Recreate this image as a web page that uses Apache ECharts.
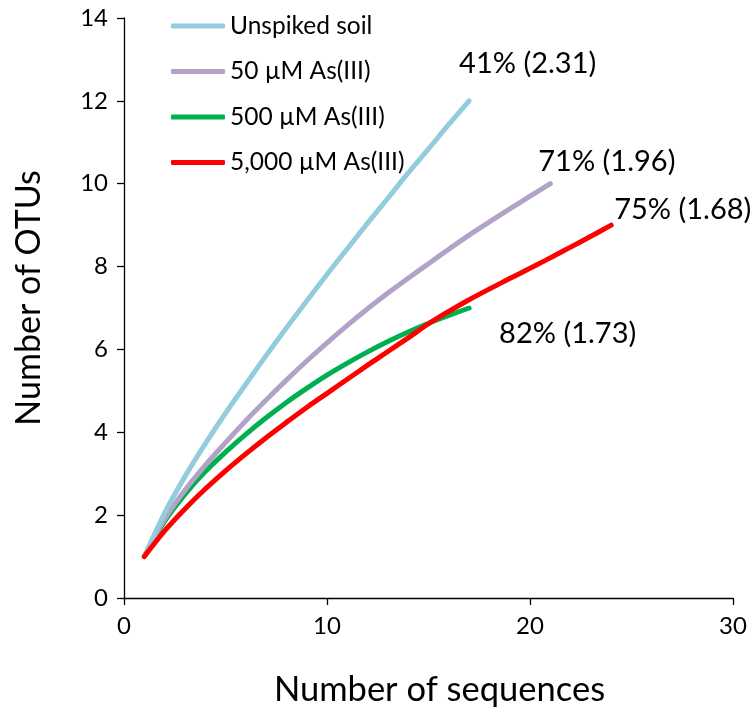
<!DOCTYPE html>
<html>
<head>
<meta charset="utf-8">
<script src="https://cdn.jsdelivr.net/npm/echarts@6/dist/echarts.min.js"></script>
<style>
  html, body { margin: 0; padding: 0; background: #fff; }
  #chart { width: 755px; height: 722px; }
</style>
</head>
<body>
<div id="chart"></div>
<script>
// Rarefaction curves: OTUs observed vs. number of sequences sampled
const seriesNames = ['Unspiked soil', '50 \u00b5M As(III)', '500 \u00b5M As(III)', '5,000 \u00b5M As(III)'];
const seriesColors = ['#93CDDD', '#B3A2C7', '#00B050', '#FF0000'];

const unspiked = [1, 2.05, 2.93, 3.72, 4.46, 5.16, 5.85, 6.52, 7.17, 7.81, 8.43, 9.05, 9.65, 10.26, 10.84, 11.43, 12.0];
const as50 = [1, 1.9, 2.6, 3.2, 3.75, 4.28, 4.78, 5.26, 5.72, 6.16, 6.58, 6.98, 7.36, 7.72, 8.07, 8.42, 8.76, 9.08, 9.39, 9.7, 10.0];
const as500 = [1, 1.85, 2.5, 3.05, 3.52, 3.95, 4.35, 4.72, 5.06, 5.38, 5.67, 5.94, 6.19, 6.42, 6.63, 6.82, 7.0];
const as5000 = [1, 1.62, 2.15, 2.63, 3.07, 3.48, 3.87, 4.24, 4.6, 4.94, 5.28, 5.62, 5.95, 6.28, 6.62, 6.92, 7.2, 7.46, 7.71, 7.96, 8.21, 8.47, 8.73, 9.0];

// Coverage (Shannon index) noted at the end of each curve
const endNotes = ['41% (2.31)', '71% (1.96)', '82% (1.73)', '75% (1.68)'];
const endNoteOffsets = [[-10, -37], [-12, -22], [30, 26], [3, -16]];

const xTicks = { min: 0, max: 30, interval: 10 };
const yTicks = { min: 0, max: 14, interval: 2 };

const FONT = 'Lato';
const allValues = [unspiked, as50, as500, as5000];

const series = allValues.map((vals, i) => ({
  name: seriesNames[i],
  type: 'line',
  data: vals.map((v, k) => [k + 1, v]),
  smooth: 0.35,
  showSymbol: false,
  symbol: 'none',
  lineStyle: { color: seriesColors[i], width: 5, cap: 'round', join: 'round' },
  itemStyle: { color: seriesColors[i] },
  endLabel: {
    show: true,
    formatter: endNotes[i],
    distance: 0,
    offset: endNoteOffsets[i],
    align: 'left',
    verticalAlign: 'middle',
    color: '#000',
    fontFamily: FONT,
    fontSize: 29
  },
  z: 10 - i,
  animation: false
}));
// The 5,000 µM curve is drawn over the 500 µM curve where they cross
series[3].z = 12;

const chart = echarts.init(document.getElementById('chart'), null, { renderer: 'canvas' });
chart.setOption({
  animation: false,
  backgroundColor: '#fff',
  grid: { left: 124, right: 22, top: 18, bottom: 124, containLabel: false },
  legend: {
    orient: 'vertical',
    left: 166,
    top: 6,
    itemWidth: 54,
    itemHeight: 5,
    itemGap: 15.5,
    icon: 'roundRect',
    data: seriesNames,
    textStyle: { fontFamily: FONT, fontSize: 24.5, color: '#000', lineHeight: 30 }
  },
  xAxis: {
    type: 'value',
    min: xTicks.min, max: xTicks.max, interval: xTicks.interval,
    name: 'Number of sequences',
    nameLocation: 'middle',
    nameGap: 74,
    nameTextStyle: { fontFamily: FONT, fontSize: 34.5, color: '#000', padding: [0, 0, 0, 22] },
    axisLine: { show: true, onZero: false, lineStyle: { color: '#000', width: 1.3 } },
    axisTick: { show: true, inside: false, length: 7, lineStyle: { color: '#000', width: 1.3 } },
    axisLabel: { fontFamily: FONT, fontSize: 24, color: '#000', margin: 16 },
    splitLine: { show: false }
  },
  yAxis: {
    type: 'value',
    min: yTicks.min, max: yTicks.max, interval: yTicks.interval,
    name: 'Number of OTUs',
    nameLocation: 'middle',
    nameGap: 78,
    nameTextStyle: { fontFamily: FONT, fontSize: 34, color: '#000', padding: [0, 0, 0, 20] },
    axisLine: { show: true, onZero: false, lineStyle: { color: '#000', width: 1.3 } },
    axisTick: { show: true, inside: false, length: 7, lineStyle: { color: '#000', width: 1.3 } },
    axisLabel: { fontFamily: FONT, fontSize: 24, color: '#000', margin: 16 },
    splitLine: { show: false }
  },
  series: series
});
</script>
</body>
</html>
